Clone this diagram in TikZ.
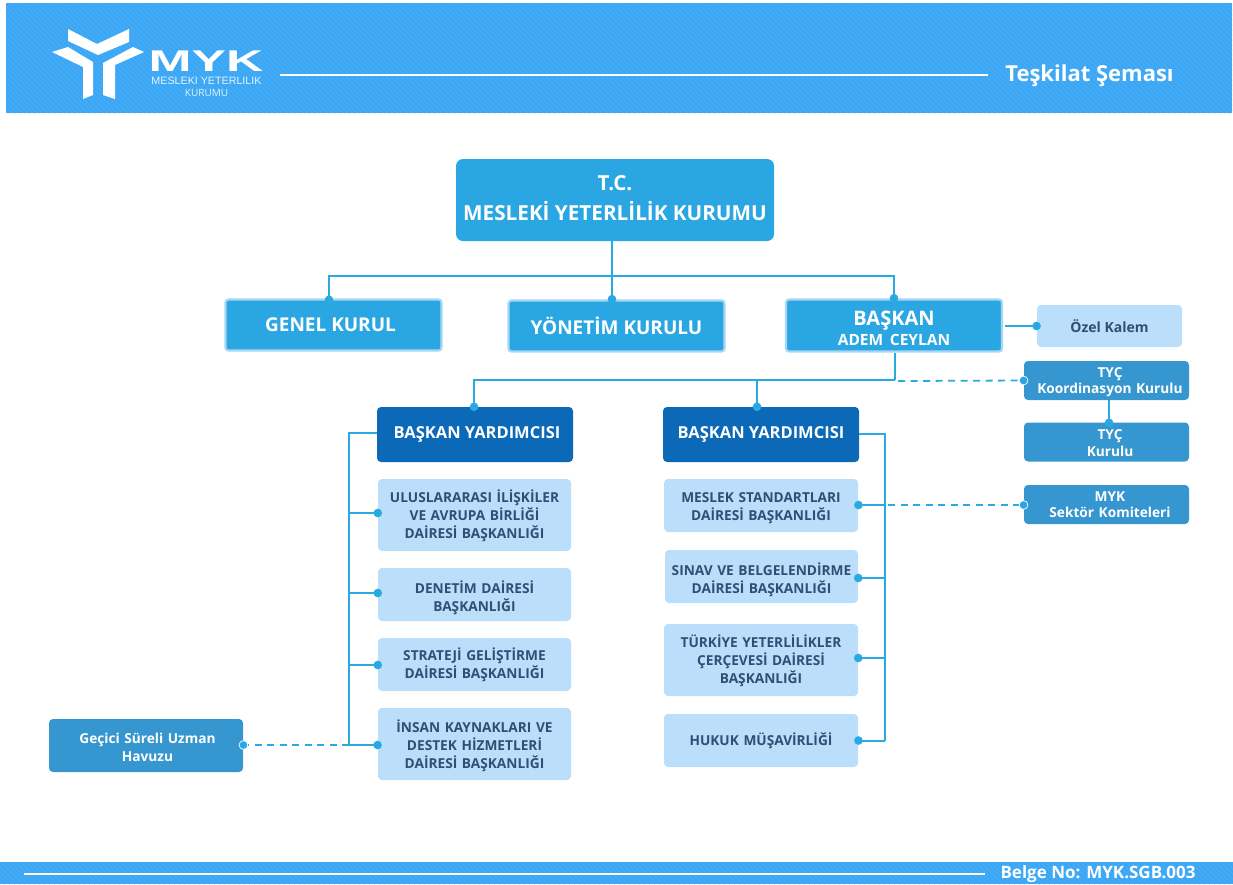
\documentclass[tikz,border=0pt]{standalone}
\usepackage{fontspec}
\setmainfont{Open Sans}[BoldFont={Open Sans Bold}]
\newfontfamily\logofont{Liberation Sans}
\usetikzlibrary{arrows.meta}
\definecolor{band}{HTML}{42ABF7}
\definecolor{bandstripe}{HTML}{39A3F0}
\definecolor{mainblue}{HTML}{2AA7E3}
\definecolor{midblue}{HTML}{3596D0}
\definecolor{darkblue}{HTML}{0B69B8}
\definecolor{paleblue}{HTML}{BBDEFA}
\definecolor{paletext}{HTML}{2E5077}
\definecolor{edgeblue}{HTML}{A5D6F3}
\definecolor{wire}{HTML}{29ABE2}
\newcommand{\fs}[2][1.22]{\fontsize{#2}{#2}\bfseries\baselineskip=#1\baselineskip\relax}
\tikzset{
  x=1pt,y=-1pt,
  box/.style={rounded corners=4pt,align=center,inner sep=0pt,anchor=center},
  mainbox/.style={box,fill=mainblue,text=white},
  framed/.style={mainbox,draw=edgeblue,line width=2.2pt,rounded corners=3pt},
  deputy/.style={box,fill=darkblue,text=white,minimum width=196pt,minimum height=55pt,font={\fs{16.5}}},
  pale/.style={box,fill=paleblue,text=paletext,font={\fs[1.32]{13.7}},text width=190pt},
  mid/.style={box,fill=midblue,text=white,font={\fs[1.2]{13.7}},text width=160pt},
  down/.style={execute at begin node={\rule{0pt}{#1}}},
  wirepath/.style={draw=wire,line width=2pt},
  dotted end/.style={wirepath,-{Circle[length=8.5pt,width=8.5pt,fill=mainblue]},shorten >=-4pt},
  dashlink/.style={draw=wire,line width=1.8pt,dash pattern=on 7pt off 5.5pt},
  dash dot/.style={dashlink,-{Circle[color=white,fill=mainblue,length=9.5pt,width=9.5pt,line width=.7pt]},shorten >=-4.5pt},
  stripe/.style={draw=bandstripe,line width=1pt},
  logo/.style={fill=white,draw=none},
}
\begin{document}
\begin{tikzpicture}
\useasboundingbox (0,0) rectangle (1233,884);
% header and footer bands
\fill[band] (6,3) rectangle (1232,113);
\fill[band] (0,862) rectangle (1233,884);
\begin{scope}
\clip (6,3) rectangle (1232,113);
\foreach \s in {0,5,...,1360}{\draw[stripe] (\s-110,3) -- (\s,113);}
\end{scope}
\begin{scope}
\clip (0,862) rectangle (1233,884);
\foreach \s in {0,5,...,1260}{\draw[stripe] (\s-22,862) -- (\s,884);}
\end{scope}
% logo
\fill[logo] (68,29) -- (97,44) -- (129,29) -- (129,42) -- (98,55) -- (68,41) -- cycle;
\fill[logo] (52,52) -- (68,47) -- (93,62) -- (93,95) -- (83,99) -- (83,67) -- cycle;
\fill[logo] (144,52) -- (133,47) -- (103,63) -- (103,95) -- (115,99) -- (115,65) -- cycle;
\node[text=white,inner sep=0pt,xscale=1.72] (logoname) at (206,61) {\logofont\bfseries\fontsize{30}{30}\selectfont MYK};
\node[text=white!85!band,inner sep=0pt,align=center] (logosub) at (206.5,87) {\logofont\fontsize{10.7}{11}\selectfont MESLEKI YETERLILIK\\KURUMU};
\coordinate (hl) at (280,75); \coordinate (hr) at (988,75);
\draw[white,line width=1.1pt] (hl) -- (hr);
\node[text=white,inner sep=0pt] (title) at (1089.5,75.5) {\fs{22}Teşkilat Şeması};
\coordinate (fl) at (24,874); \coordinate (fr) at (985,874);
\draw[white,line width=1.1pt] (fl) -- (fr);
\node[text=white,inner sep=0pt] (docno) at (1098,874.5) {\fs{17}Belge No: MYK.SGB.003};
% boxes
\node[mainbox,rounded corners=7pt,minimum width=318pt,minimum height=82pt,font={\fs[1.43]{20.7}}] (root) at (615,200) {T.C.\\MESLEKİ YETERLİLİK KURUMU\rule[-4pt]{0pt}{4pt}};
\node[framed,minimum width=216pt,minimum height=51pt,font={\fs{19}}] (genel) at (333.5,325) {\hspace*{-6pt}GENEL KURUL};
\node[framed,minimum width=216pt,minimum height=51pt,font={\fs{19}}] (yonetim) at (616.5,326) {YÖNETİM KURULU};
\node[framed,minimum width=216pt,minimum height=52pt,text width=200pt,down=20.5pt,font={\fs[1]{20}}] (baskan) at (894,325.5) {BAŞKAN\\[-.5pt]{\fs[1]{15.5}ADEM CEYLAN}};
\node[box,fill=paleblue,text=paletext,minimum width=145pt,minimum height=42pt,font={\fs{14}}] (ozel) at (1109.5,326) {Özel Kalem};
\node[mid,minimum width=165pt,minimum height=39pt,down=13.8pt] (koord) at (1106.5,380.5) {\hspace*{7pt}TYÇ\\\hspace*{7pt}Koordinasyon Kurulu};
\node[mid,minimum width=165pt,minimum height=39pt,down=11.8pt] (tyc) at (1106.5,442) {\hspace*{7pt}TYÇ\\\hspace*{7pt}Kurulu};
\node[mid,minimum width=165pt,minimum height=39pt] (sektor) at (1106.5,504.5) {\hspace*{7pt}MYK\\\hspace*{7pt}Sektör Komiteleri};
\node[deputy] (by1) at (475,434.5) {\hspace*{4pt}BAŞKAN YARDIMCISI};
\node[deputy] (by2) at (761,434.5) {BAŞKAN YARDIMCISI};
\node[pale,minimum width=193pt,minimum height=72pt,down=14.7pt] (l1) at (474.5,515) {ULUSLARARASI İLİŞKİLER\\VE AVRUPA BİRLİĞİ\\DAİRESİ BAŞKANLIĞI};
\node[pale,minimum width=193pt,minimum height=53pt,down=19.7pt] (l2) at (474.5,594.5) {DENETİM DAİRESİ\\BAŞKANLIĞI};
\node[pale,minimum width=193pt,minimum height=53pt] (l3) at (474.5,664.5) {STRATEJİ GELİŞTİRME\\DAİRESİ BAŞKANLIĞI};
\node[pale,minimum width=193pt,minimum height=72pt,down=15.7pt] (l4) at (474.5,744) {İNSAN KAYNAKLARI VE\\DESTEK HİZMETLERİ\\DAİRESİ BAŞKANLIĞI};
\node[pale,minimum width=194pt,minimum height=53pt,down=15.8pt] (r1) at (761,505.5) {MESLEK STANDARTLARI\\DAİRESİ BAŞKANLIĞI};
\node[pale,minimum width=193pt,minimum height=53pt,down=18.7pt] (r2) at (761.5,576.5) {SINAV VE BELGELENDİRME\\DAİRESİ BAŞKANLIĞI};
\node[pale,minimum width=194pt,minimum height=72pt,down=14.7pt] (r3) at (761,660) {TÜRKİYE YETERLİLİKLER\\ÇERÇEVESİ DAİRESİ\\BAŞKANLIĞI};
\node[pale,minimum width=194pt,minimum height=53pt] (r4) at (761,740.5) {HUKUK MÜŞAVİRLİĞİ};
\node[mid,minimum width=194pt,minimum height=53pt,down=14.4pt] (havuz) at (146,745.5) {\hspace*{3pt}Geçici Süreli Uzman\\[1.5pt]\hspace*{3pt}Havuzu};
% junctions
\coordinate (j0) at (612,276);
\coordinate (j1) at (895,380);
\coordinate (dg) at (329,300);
\coordinate (db1) at (474,407);
\coordinate (db2) at (757,407);
\coordinate (ct) at (1109,423);
\coordinate (lb) at (349,433);
\coordinate (rb) at (885,434);
\coordinate (lg) at (349,745);
\coordinate (rg) at (885,505);
\coordinate (re) at (885,740.5);
% connectors
\draw[wirepath] (root.south -| j0) -- (j0);
\draw[dotted end] (j0) -| (dg);
\draw[dotted end] (j0) -- (yonetim.north -| j0);
\draw[dotted end] (j0) -| (baskan.north);
\draw[dotted end] (baskan.east |- ozel.west) ++(2,0) -- (ozel.west);
\draw[wirepath] (baskan.south -| j1) -- (j1);
\draw[dotted end] (j1) -| (db1);
\draw[dotted end] (j1) -| (db2);
\draw[dash dot] (j1) ++(3,1) -- (koord.west);
\draw[dotted end] (koord.south -| ct) -- (ct);
\draw[wirepath] (by1.west |- lb) -- (lb) -- (lg);
\draw[dotted end] (lb |- l1.west) ++(0,-2) -- ++(29,0);
\draw[dotted end] (lb |- l2.west) ++(0,-1.5) -- ++(29,0);
\draw[dotted end] (lb |- l3.west) ++(0,0.5) -- ++(29,0);
\draw[dotted end] (lg) -- (l4.west |- lg);
\draw[dash dot] (lg) -- (havuz.east |- lg);
\draw[wirepath] (by2.east |- rb) -- (rb) -- (re);
\draw[dotted end] (rg) -- (r1.east |- rg);
\draw[dotted end] (rb |- r2.east) ++(0,1.5) -- ++(-27,0);
\draw[dotted end] (rb |- r3.east) ++(0,-2) -- ++(-27,0);
\draw[dotted end] (re) -- (r4.east);
\draw[dash dot] (rg) ++(3,0) -- (sektor.west |- rg);
\end{tikzpicture}
\end{document}
